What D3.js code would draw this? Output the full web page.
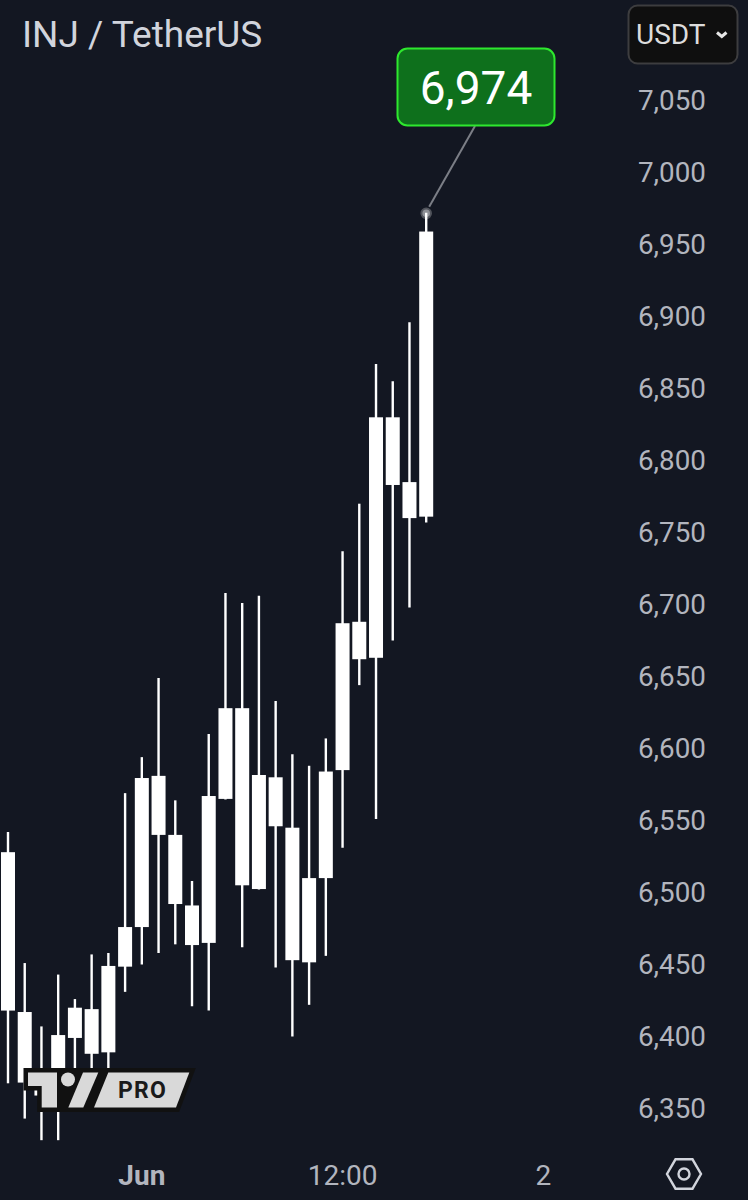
<!DOCTYPE html>
<html>
<head>
<meta charset="utf-8">
<script src="https://cdn.jsdelivr.net/npm/d3@7"></script>
<style>
    html, body { margin: 0; padding: 0; background: #131722; }
    svg { display: block; font-family: Roboto, sans-serif; }
</style>
</head>
<body>
<div id="chart"></div>
<script>
// hourly candles, index 8 is 1 Jun 00:00
const opens = [6528, 6417, 6359, 6378, 6399, 6419, 6389, 6448.5, 6476, 6581, 6540, 6491, 6465, 6565, 6628, 6502.4, 6580, 6545, 6451.5, 6510, 6585, 6688, 6663, 6830, 6785, 6761];
const closes = [6418, 6368, 6375, 6401, 6420, 6388, 6449, 6476, 6579.5, 6540, 6492, 6463.5, 6567, 6628, 6505, 6581.6, 6546, 6453, 6510, 6584, 6687, 6662, 6830, 6783, 6760, 6959];
const highs = [6542, 6451, 6407, 6443, 6426, 6457, 6458, 6569, 6594, 6649, 6564, 6508, 6610, 6708, 6701, 6706, 6633, 6596, 6588, 6607, 6737, 6770, 6867, 6855, 6896, 6972];
const lows = [6367.5, 6343, 6328, 6328, 6370, 6375, 6375, 6431, 6450, 6458, 6464, 6421, 6418, 6564.6, 6462, 6502, 6448, 6400, 6422, 6456, 6531, 6644, 6551, 6675, 6698, 6757];

const priceTicks = [7050, 7000, 6950, 6900, 6850, 6800, 6750, 6700, 6650, 6600, 6550, 6500, 6450, 6400, 6350];
const timeTicks = [8, 20, 32];
const timeLabels = ['Jun', '12:00', '2'];

const title = 'INJ / TetherUS';
const currency = 'USDT';
const calloutIndex = 25;
const calloutPrice = 6972;
const calloutLabel = '6,974';

const width = 748;
const height = 1200;
const labelColor = '#b2b5be';

const svg = d3.select('#chart')
    .append('svg')
    .attr('width', width)
    .attr('height', height)
    .attr('viewBox', `0 0 ${width} ${height}`);

svg.append('rect')
    .attr('width', width)
    .attr('height', height)
    .attr('fill', '#131722');

// Scales
const xScale = d3.scaleLinear().domain([0, 25]).range([8, 426.2]);
const yScale = d3.scaleLinear().domain([7050, 6350]).range([100.5, 1108.5]);

// Callout line and marker sit under the last wick
const markX = xScale(calloutIndex);
const markY = yScale(calloutPrice);

svg.append('line')
    .attr('x1', markX + 3)
    .attr('y1', markY - 6)
    .attr('x2', 475)
    .attr('y2', 126)
    .attr('stroke', '#7b7e86')
    .attr('stroke-width', 2);

svg.append('circle')
    .attr('cx', markX)
    .attr('cy', markY + 0.5)
    .attr('r', 4.8)
    .attr('fill', '#8e9096')
    .attr('stroke', '#50535b')
    .attr('stroke-width', 2);

// Candles
const candles = svg.append('g').attr('class', 'candles');

candles.selectAll('line')
    .data(opens)
    .join('line')
    .attr('x1', (d, i) => xScale(i))
    .attr('x2', (d, i) => xScale(i))
    .attr('y1', (d, i) => yScale(highs[i]))
    .attr('y2', (d, i) => yScale(lows[i]))
    .attr('stroke', '#fff')
    .attr('stroke-width', 2.4);

candles.selectAll('rect')
    .data(opens)
    .join('rect')
    .attr('x', (d, i) => xScale(i) - 7)
    .attr('width', 14)
    .attr('y', (d, i) => yScale(Math.max(d, closes[i])))
    .attr('height', (d, i) => Math.abs(yScale(d) - yScale(closes[i])))
    .attr('fill', '#fff');

// Price axis
const yAxis = d3.axisRight(yScale)
    .tickValues(priceTicks)
    .tickFormat(d3.format(','))
    .tickSize(0)
    .tickPadding(0);

const yAxisG = svg.append('g')
    .attr('transform', 'translate(638,0.5)')
    .call(yAxis);
yAxisG.select('.domain').remove();
yAxisG.selectAll('text')
    .attr('font-family', 'Roboto, sans-serif')
    .attr('font-size', 27.8)
    .attr('fill', labelColor);

// Time axis
const xAxis = d3.axisBottom(xScale)
    .tickValues(timeTicks)
    .tickFormat((d, i) => timeLabels[i])
    .tickSize(0)
    .tickPadding(0);

const xAxisG = svg.append('g')
    .attr('transform', 'translate(-0.5,1165)')
    .call(xAxis);
xAxisG.select('.domain').remove();
xAxisG.selectAll('text')
    .attr('font-family', 'Roboto, sans-serif')
    .attr('font-size', 28)
    .attr('fill', labelColor)
    .attr('font-weight', (d, i) => i === 0 ? 700 : 400);

// Title
svg.append('text')
    .attr('x', 22)
    .attr('y', 47)
    .attr('font-size', 37)
    .attr('fill', '#d1d4dc')
    .text(title);

// Currency button
svg.append('rect')
    .attr('x', 628.5)
    .attr('y', 5.5)
    .attr('width', 109)
    .attr('height', 58)
    .attr('rx', 9)
    .attr('fill', '#0f0f0f')
    .attr('stroke', '#3d3d3f')
    .attr('stroke-width', 2);

svg.append('text')
    .attr('x', 636)
    .attr('y', 44)
    .attr('font-size', 28)
    .attr('fill', '#dcdcdc')
    .text(currency);

svg.append('path')
    .attr('d', 'M717 32.5 L721.8 36.5 L726.5 32.5')
    .attr('fill', 'none')
    .attr('stroke', '#e6e6e6')
    .attr('stroke-width', 3);

// Callout box
svg.append('rect')
    .attr('x', 397.5)
    .attr('y', 48.5)
    .attr('width', 157)
    .attr('height', 77)
    .attr('rx', 10)
    .attr('fill', '#0e701c')
    .attr('stroke', '#2ee82e')
    .attr('stroke-width', 2);

svg.append('text')
    .attr('x', 476)
    .attr('y', 104)
    .attr('text-anchor', 'middle')
    .attr('font-size', 46)
    .attr('fill', '#fff')
    .text(calloutLabel);

// Settings icon
const hexR = 17;
const hexPoints = d3.range(6).map(k => [
    684 + hexR * Math.cos(k * Math.PI / 3),
    1174 + hexR * Math.sin(k * Math.PI / 3)
]);

svg.append('polygon')
    .attr('points', hexPoints.join(' '))
    .attr('fill', 'none')
    .attr('stroke', '#d1d4dc')
    .attr('stroke-width', 2.4);

svg.append('circle')
    .attr('cx', 684)
    .attr('cy', 1174)
    .attr('r', 5.5)
    .attr('fill', 'none')
    .attr('stroke', '#d1d4dc')
    .attr('stroke-width', 2.4);

// TV PRO logo, outlined in near black so it cuts through the candles
const logo = svg.append('g').attr('class', 'logo');
const logoShapes = [
    '28,1072.5 57,1072.5 57,1107.5 41.7,1107.5 41.7,1086 28,1086',
    '83,1072.5 98.3,1072.5 83.3,1107.5 68.3,1107.5',
    '108.3,1072.5 189.3,1072.5 176,1107.5 94,1107.5'
];

logo.selectAll('polygon.outline')
    .data(logoShapes)
    .join('polygon')
    .attr('class', 'outline')
    .attr('points', d => d)
    .attr('fill', '#111')
    .attr('stroke', '#111')
    .attr('stroke-width', 9);

logo.append('rect')
    .attr('x', 57)
    .attr('y', 1068)
    .attr('width', 50)
    .attr('height', 44)
    .attr('fill', '#111');

logo.selectAll('polygon.face')
    .data(logoShapes)
    .join('polygon')
    .attr('class', 'face')
    .attr('points', d => d)
    .attr('fill', '#d9d9d9');

logo.append('circle')
    .attr('cx', 68)
    .attr('cy', 1079.5)
    .attr('r', 7)
    .attr('fill', '#d9d9d9');

logo.append('text')
    .attr('x', 142.5)
    .attr('y', 1098)
    .attr('text-anchor', 'middle')
    .attr('font-size', 23)
    .attr('font-weight', 700)
    .attr('letter-spacing', 1.2)
    .attr('fill', '#1a1a1a')
    .text('PRO');
</script>
</body>
</html>
